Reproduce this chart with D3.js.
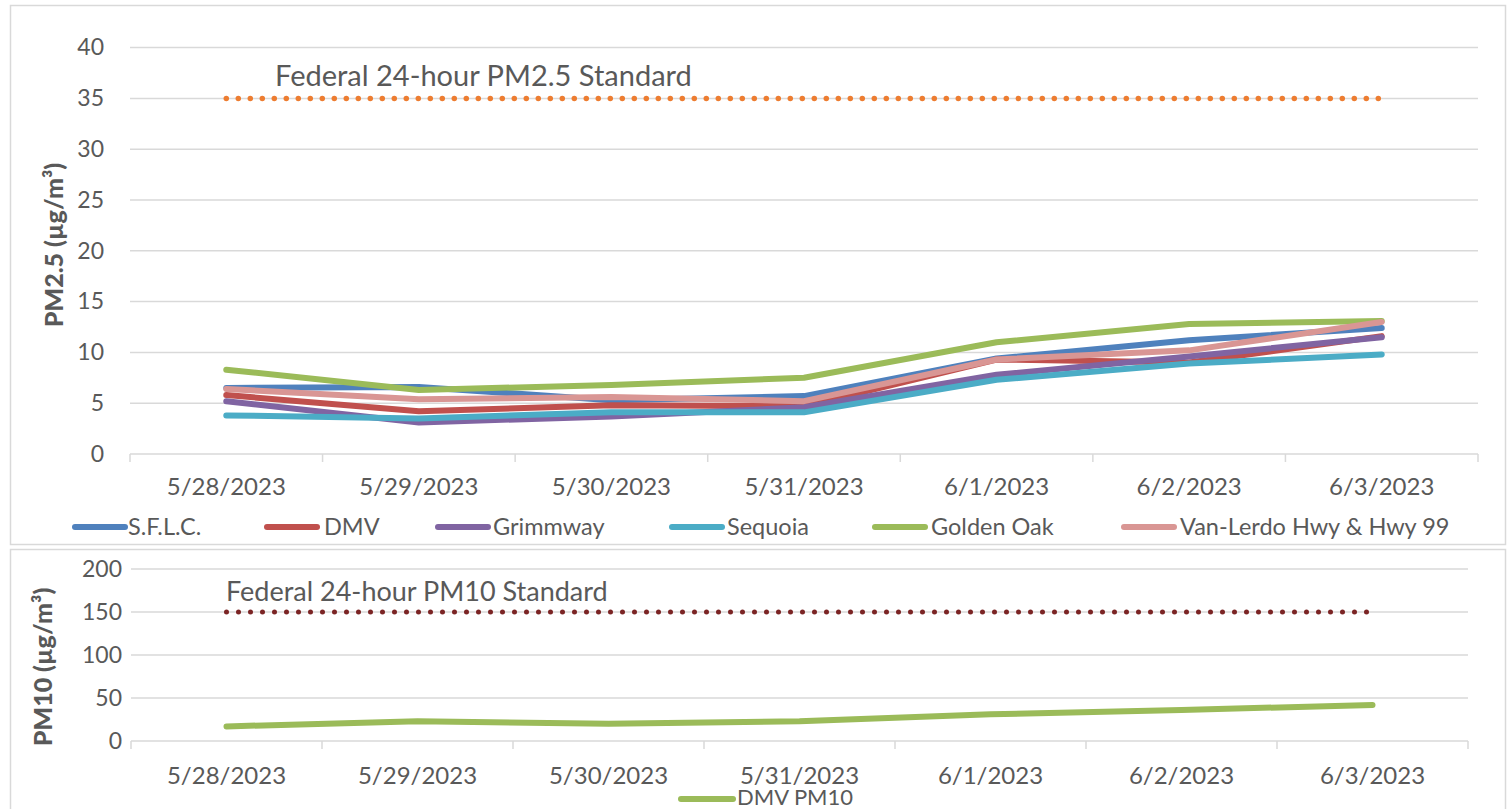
<!DOCTYPE html>
<html>
<head>
<meta charset="utf-8">
<script src="https://cdn.jsdelivr.net/npm/d3@7"></script>
<style>
  html, body { margin: 0; padding: 0; background: #fff; }
  svg { display: block; }
  text { font-family: Lato, "Open Sans", sans-serif; fill: #595959; }
</style>
</head>
<body>
<svg id="chart" width="1512" height="809"></svg>
<script>
// ---------- data ----------
const dates = ["5/28/2023", "5/29/2023", "5/30/2023", "5/31/2023", "6/1/2023", "6/2/2023", "6/3/2023"];
const seriesNames = ["S.F.L.C.", "DMV", "Grimmway", "Sequoia", "Golden Oak", "Van-Lerdo Hwy & Hwy 99"];
const sflc      = [6.5, 6.6, 5.3, 5.7, 9.4, 11.2, 12.4];
const dmv       = [5.8, 4.2, 4.8, 4.7, 9.3, 9.0, 11.6];
const grimmway  = [5.2, 3.1, 3.7, 4.6, 7.8, 9.6, 11.5];
const sequoia   = [3.8, 3.5, 4.1, 4.1, 7.3, 8.9, 9.8];
const goldenOak = [8.3, 6.3, 6.8, 7.5, 11.0, 12.8, 13.1];
const vanLerdo  = [6.4, 5.4, 5.6, 5.2, 9.3, 10.2, 13.0];
const pm25Ticks = [0, 5, 10, 15, 20, 25, 30, 35, 40];
const pm25Standard = 35;
const pm25StandardLabel = "Federal 24-hour PM2.5 Standard";

const dmvPM10Name = "DMV PM10";
const dmvPM10 = [17, 23, 20, 23, 31, 36, 42];
const pm10Ticks = [0, 50, 100, 150, 200];
const pm10Standard = 150;
const pm10StandardLabel = "Federal 24-hour PM10 Standard";

const seriesColors = ["#4F81BD", "#C0504D", "#8064A2", "#4BACC6", "#9BBB59", "#D99694"];
const seriesValues = [sflc, dmv, grimmway, sequoia, goldenOak, vanLerdo];

// ---------- drawing ----------
const svg = d3.select("#chart");
const gridColor = "#D9D9D9";

// frames
svg.append("rect").attr("x", 10.5).attr("y", 5.5).attr("width", 1495).attr("height", 539)
  .attr("fill", "none").attr("stroke", gridColor).attr("stroke-width", 1.5);
svg.append("rect").attr("x", 10.5).attr("y", 549.5).attr("width", 1495).attr("height", 280)
  .attr("fill", "none").attr("stroke", gridColor).attr("stroke-width", 1.5);

function panel(opts) {
  const g = svg.append("g");
  const x = d3.scaleBand().domain(dates).range([opts.x0, opts.x1]).padding(0);
  const y = d3.scaleLinear().domain([opts.ticks[0], opts.ticks[opts.ticks.length - 1]]).range([opts.y0, opts.y1]);
  const cx = d => x(d) + x.bandwidth() / 2;

  // gridlines
  g.selectAll(".grid").data(opts.ticks).join("line")
    .attr("x1", opts.x0).attr("x2", opts.x1)
    .attr("y1", d => y(d)).attr("y2", d => y(d))
    .attr("stroke", gridColor).attr("stroke-width", 1.5);

  // y axis labels
  const yAxis = d3.axisLeft(y).tickValues(opts.ticks).tickSize(0).tickPadding(opts.yPad);
  const ya = g.append("g").attr("transform", `translate(${opts.x0},0)`).call(yAxis);
  ya.select(".domain").remove();
  ya.selectAll("text").attr("font-size", 23).attr("fill", "#595959")
    .style("font-family", "Lato, sans-serif");

  // x axis
  const xAxis = d3.axisBottom(x).tickSize(0).tickPadding(opts.xPad);
  const xa = g.append("g").attr("transform", `translate(0,${opts.y0})`).call(xAxis);
  xa.select(".domain").remove();
  xa.selectAll("text").attr("font-size", 24).attr("fill", "#595959")
    .style("font-family", "Lato, sans-serif");
  // category boundary ticks
  const bounds = dates.map(d => x(d)).concat([opts.x1]);
  g.selectAll(".bt").data(bounds).join("line")
    .attr("x1", d => d).attr("x2", d => d)
    .attr("y1", opts.y0).attr("y2", opts.y0 + 8)
    .attr("stroke", gridColor).attr("stroke-width", 1.5);

  // standard dotted line
  g.append("line")
    .attr("x1", cx(dates[0])).attr("x2", cx(dates[dates.length - 1]))
    .attr("y1", y(opts.standard)).attr("y2", y(opts.standard))
    .attr("stroke", opts.stdColor).attr("stroke-width", opts.stdWidth)
    .attr("stroke-linecap", "round").attr("stroke-dasharray", `0 ${opts.dotGap}`);
  g.append("text")
    .attr("x", opts.stdLabelX).attr("y", y(opts.standard) - opts.stdLabelDy)
    .attr("font-size", opts.stdLabelSize).attr("fill", "#595959")
    .text(opts.stdLabel);

  // series lines
  const line = d3.line().x((d, i) => cx(dates[i])).y(d => y(d));
  opts.series.forEach((vals, i) => {
    g.append("path").datum(vals).attr("d", line)
      .attr("fill", "none").attr("stroke", opts.colors[i]).attr("stroke-width", 6)
      .attr("stroke-linecap", "round").attr("stroke-linejoin", "round");
  });

  // y title
  g.append("text")
    .attr("transform", `translate(${opts.titleX},${opts.titleY}) rotate(-90)`)
    .attr("text-anchor", "middle").attr("font-size", opts.titleSize).attr("font-weight", 900)
    .attr("fill", "#595959")
    .text(opts.title);
  return { x, y };
}

panel({
  x0: 130, x1: 1478, y0: 454, y1: 47.6,
  ticks: pm25Ticks, yPad: 26, xPad: 24,
  standard: pm25Standard, stdColor: "#ED7D31", stdWidth: 5.5, dotGap: 12,
  stdLabelX: 275, stdLabelDy: 12, stdLabelSize: 29, stdLabel: pm25StandardLabel,
  series: seriesValues, colors: seriesColors,
  title: "PM2.5 (µg/m³)", titleX: 63, titleY: 245, titleSize: 25
});

panel({
  x0: 131, x1: 1468, y0: 741, y1: 569,
  ticks: pm10Ticks, yPad: 9, xPad: 26,
  standard: pm10Standard, stdColor: "#7B2424", stdWidth: 5, dotGap: 12,
  stdLabelX: 226, stdLabelDy: 11, stdLabelSize: 27, stdLabel: pm10StandardLabel,
  series: [dmvPM10], colors: ["#9BBB59"],
  title: "PM10 (µg/m³)", titleX: 52, titleY: 667, titleSize: 25
});

// top legend
const legendItems = [
  { lx: 72, tx: 128 }, { lx: 264, tx: 324 }, { lx: 435, tx: 493 },
  { lx: 669, tx: 727 }, { lx: 872, tx: 931 }, { lx: 1121, tx: 1180 }
];
const lg = svg.append("g");
seriesNames.forEach((name, i) => {
  lg.append("line").attr("x1", legendItems[i].lx + 3).attr("x2", legendItems[i].lx + 53)
    .attr("y1", 527).attr("y2", 527)
    .attr("stroke", seriesColors[i]).attr("stroke-width", 6).attr("stroke-linecap", "round");
  lg.append("text").attr("x", legendItems[i].tx).attr("y", 535)
    .attr("font-size", 23.5).attr("fill", "#595959").text(name);
});

// bottom legend
lg.append("line").attr("x1", 681).attr("x2", 733).attr("y1", 799).attr("y2", 799)
  .attr("stroke", "#9BBB59").attr("stroke-width", 6).attr("stroke-linecap", "round");
lg.append("text").attr("x", 737).attr("y", 805).attr("font-size", 22).attr("fill", "#595959").text(dmvPM10Name);
</script>
</body>
</html>
